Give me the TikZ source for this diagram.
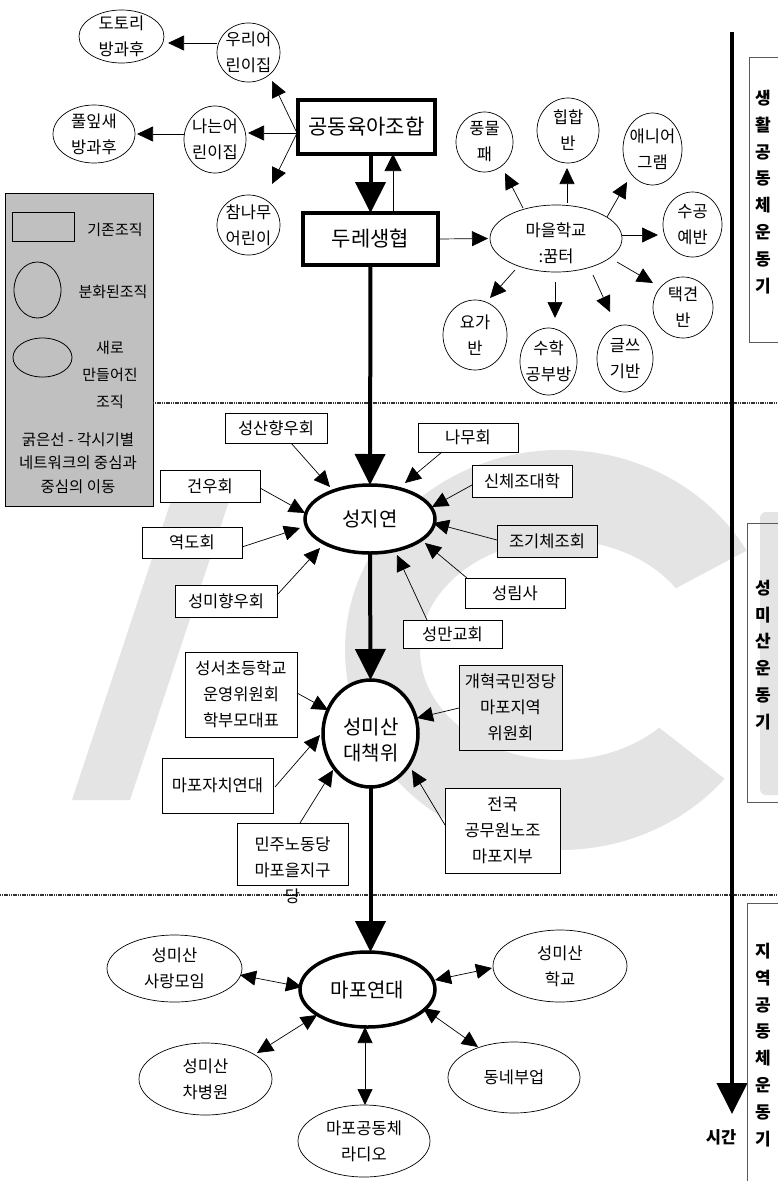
\documentclass[tikz,border=0pt]{standalone}
\usepackage{fontspec}
\setmainfont{Noto Sans CJK KR}
\usetikzlibrary{arrows.meta,shapes.geometric,calc}
\definecolor{legendgray}{RGB}{192,192,192}
\definecolor{wm}{RGB}{228,228,228}
\definecolor{pborder}{RGB}{90,90,90}
\begin{document}
\begin{tikzpicture}[x=1pt,y=-1pt,
 every node/.style={inner sep=0pt, outer sep=0pt},
 txt/.style={font=\fontsize{16.5}{26}\selectfont, align=center},
 ltxt/.style={font=\fontsize{15}{27}\selectfont, align=center},
 hubtxt/.style={font=\fontsize{20}{26}\selectfont, align=center},
 ptxt/.style={font=\bfseries\fontsize{17}{26.8}\selectfont, align=center},
 ell/.style={ellipse, draw, line width=0.7pt, fill=white},
 hub/.style={ellipse, draw, line width=3.5pt, fill=white},
 box/.style={rectangle, draw, line width=0.7pt, fill=white, font=\fontsize{16.5}{26}\selectfont, align=center},
 gbox/.style={rectangle, draw, line width=0.7pt, fill=wm, font=\fontsize{16.5}{26}\selectfont, align=center},
 kbox/.style={rectangle, draw, line width=3.5pt, fill=white, font=\fontsize{21}{26}\selectfont},
 pbox/.style={rectangle, draw=pborder, line width=0.8pt, anchor=north west},
 thinl/.style={line width=0.7pt},
 tip/.style={thinl, -{Triangle[length=16pt,width=15pt]}},
 dtip/.style={thinl, {Triangle[length=16pt,width=15pt]}-{Triangle[length=16pt,width=15pt]}},
 flow/.style={line width=4pt, -{Triangle[length=31pt,width=30pt]}},
 dotline/.style={line width=1.6pt, black!80, dash pattern=on 1.2pt off 0.6pt}
]
\useasboundingbox (0,0) rectangle (778,1181);
\clip (0,0) rectangle (778,1181);
\fill[white] (0,0) rectangle (778,1181);

% ---------- watermark (light grey letters) ----------
\fill[wm] (178,480) -- (236,480) -- (130,800) -- (72,800) -- cycle;
\fill[wm, even odd rule] (560,650) ellipse [x radius=215, y radius=200]
  (560,650) ellipse [x radius=140, y radius=110];
\fill[white] (560,650) -- ++(-28:320) -- ($(560,650)+(38:320)$) -- cycle;
\fill[wm, rounded corners=6pt] (760,512) rectangle (800,795);

% ---------- legend ----------
\node[rectangle, draw, line width=0.8pt, fill=legendgray, minimum width=148, minimum height=313, anchor=north west] (leg) at (5,193) {};
\node[rectangle, draw, line width=0.8pt, minimum width=62, minimum height=29] (legrect) at (43,226.5) {};
\node[ltxt] (leg1) at (115,230) {기존조직};
\node[ellipse, draw, line width=0.8pt, minimum width=47, minimum height=56] (legcirc) at (37.5,290) {};
\node[ltxt] (leg2) at (113,292) {분화된조직};
\node[ellipse, draw, line width=0.8pt, minimum width=59, minimum height=39] (legell) at (42.5,357.5) {};
\node[ltxt] (leg3) at (110,375) {새로\\만들어진\\조직};
\node[ltxt, font=\fontsize{15.5}{23.5}\selectfont] (leg4) at (78,463) {굵은선 - 각시기별\\네트워크의 중심과\\중심의 이동};

% ---------- dotted period lines ----------
\coordinate (d1a) at (153,403); \coordinate (d1b) at (778,403);
\coordinate (d2a) at (0,895); \coordinate (d2b) at (778,895);
\draw[dotline] (d1a) -- (d1b);
\draw[dotline] (d2a) -- (d2b);

% ---------- time axis and phases ----------
\coordinate (tA) at (732,32); \coordinate (tB) at (732,1114);
\draw[flow] (tA) -- (tB);
\node[txt, font=\bfseries\fontsize{16.5}{26}\selectfont] (time) at (721,1137) {시간};
\node[pbox, minimum width=60, minimum height=285] (p1) at (749,57) {};
\node[ptxt] (p1t) at (763,192) {생\\활\\공\\동\\체\\운\\동\\기};
\node[pbox, minimum width=60, minimum height=279] (p2) at (747,523) {};
\node[ptxt] (p2t) at (763,655) {성\\미\\산\\운\\동\\기};
\node[pbox, minimum width=60, minimum height=300] (p3) at (747,903) {};
\node[ptxt] (p3t) at (763,1045) {지\\역\\공\\동\\체\\운\\동\\기};

% ---------- period 1 ----------
\node[kbox, minimum width=137, minimum height=54] (gd) at (366.5,127) {공동육아조합};
\node[kbox, minimum width=135, minimum height=52] (dr) at (370.5,239) {두레생협};

\node[ell, minimum width=63, minimum height=59] (wuri) at (248.5,52.5) {};
\node[txt] (wuri-t) at (wuri) {우리어\\린이집};
\node[ell, minimum width=62, minimum height=67] (nanun) at (215,139.5) {};
\node[txt] (nanun-t) at (nanun) {나는어\\린이집};
\node[ell, minimum width=63, minimum height=60] (cham) at (248.5,225) {};
\node[txt] (cham-t) at (cham) {참나무\\어린이};
\node[ell, minimum width=85, minimum height=53] (dotori) at (121.5,36.5) {};
\node[txt] (dotori-t) at (dotori) {도토리\\방과후};
\node[ell, minimum width=82, minimum height=58] (pulip) at (94,134) {};
\node[txt] (pulip-t) at (pulip) {풀잎새\\방과후};

\draw[tip] ($(gd)+(-69.5,6)$) -- ($(wuri)+(23.5,28.5)$);
\draw[tip] ($(gd)+(-69.5,6)$) -- ($(nanun)+(33,-6.5)$);
\draw[tip] ($(gd)+(-69.5,6)$) -- ($(cham)+(23.5,-41)$);
\draw[tip] ($(wuri)+(-31.5,-9.5)$) -- ($(dotori)+(46.5,6.5)$);
\draw[tip] ($(nanun)+(-31,-5.5)$) -- ($(pulip)+(43,0)$);

\draw[flow] (gd.south -| dr.north) -- (dr.north);
\draw[thinl, -{Triangle[length=17pt,width=17pt]}] ([xshift=22.5pt]dr.north) -- ([xshift=26.5pt]gd.south);

\node[ell, minimum width=132, minimum height=67] (gg) at (556,238.5) {};
\node[txt] (gg-t) at (556,243) {마을학교\\:꿈터};
\draw[tip, shorten >=2pt] (dr.east) -- (gg.west);

\node[ell, minimum width=57, minimum height=60] (pung) at (484.5,142) {};
\node[txt] (pung-t) at (pung) {풍물\\패};
\node[ell, minimum width=62, minimum height=65] (hip) at (568,130.5) {};
\node[txt] (hip-t) at (hip) {힙합\\반};
\node[ell, minimum width=59, minimum height=72] (aeni) at (652.5,149) {};
\node[txt] (aeni-t) at (aeni) {애니어\\그램};
\node[ell, minimum width=59, minimum height=65] (sugong) at (692.5,224.5) {};
\node[txt] (sugong-t) at (sugong) {수공\\예반};
\node[ell, minimum width=60, minimum height=61] (taek) at (683,307.5) {};
\node[txt] (taek-t) at (taek) {택견\\반};
\node[ell, minimum width=56, minimum height=67] (geul) at (625,358.5) {};
\node[txt] (geul-t) at (geul) {글쓰\\기반};
\node[ell, minimum width=57, minimum height=67] (suhak) at (548.5,361.5) {};
\node[txt] (suhak-t) at (suhak) {수학\\공부방};
\node[ell, minimum width=64, minimum height=70] (yoga) at (475,335) {};
\node[txt] (yoga-t) at (yoga) {요가\\반};

\draw[tip] ($(gg)+(-33,-30.5)$) -- ($(pung)+(20.5,31)$);
\draw[tip] ($(gg)+(11,-35.5)$) -- ($(hip)+(-1,37.5)$);
\draw[tip] ($(gg)+(51,-21.5)$) -- ($(aeni)+(-25.5,33)$);
\draw[tip] ($(gg)+(66,-3.5)$) -- ($(sugong)+(-34.5,10.5)$);
\draw[tip] ($(gg)+(61,23.5)$) -- ($(taek)+(-30,-24.5)$);
\draw[tip] ($(gg)+(37,36.5)$) -- ($(geul)+(-15,-46.5)$);
\draw[tip] ($(gg)+(-1,43.5)$) -- ($(suhak)+(6.5,-43.5)$);
\draw[tip] ($(gg)+(-41,31.5)$) -- ($(yoga)+(15,-37)$);

% ---------- period 2a: 성지연 ----------
\node[hub, minimum width=130, minimum height=68] (sjy) at (370,519) {};
\node[hubtxt] (sjy-t) at (sjy) {성지연};
\draw[flow] (dr.south) -- (sjy.north);

\node[box, minimum width=102, minimum height=30] (sansan) at (276,428) {성산향우회};
\node[box, minimum width=100, minimum height=29] (namu) at (468,437.5) {나무회};
\node[box, minimum width=100, minimum height=32] (geonu) at (210,486) {건우회};
\node[box, minimum width=100, minimum height=32] (sinche) at (522,481) {신체조대학};
\node[box, minimum width=100, minimum height=31] (yeokdo) at (192,542.5) {역도회};
\node[gbox, minimum width=100, minimum height=32] (jogi) at (547,541) {조기체조회};
\node[box, minimum width=102, minimum height=32] (smhy) at (226,601) {성미향우회};
\node[box, minimum width=100, minimum height=30] (srim) at (515,593) {성림사};
\node[box, minimum width=99, minimum height=28] (sman) at (452.5,634) {성만교회};

\draw[tip] ($(sansan)+(15,15)$) -- ($(sjy)+(-40,-32)$);
\draw[tip] ($(namu)+(-26,14.5)$) -- ($(sjy)+(35,-36)$);
\draw[tip] ($(geonu)+(50,2)$) -- ($(sjy)+(-65,-6)$);
\draw[tip] ($(sinche)+(-50,4)$) -- ($(sjy)+(62,-12)$);
\draw[tip] ($(yeokdo)+(50,4.5)$) -- ($(sjy)+(-70,9)$);
\draw[tip] ($(jogi)+(-50,-1)$) -- ($(sjy)+(63,4)$);
\draw[tip] ($(smhy)+(51,-6)$) -- ($(sjy)+(-50,29)$);
\draw[tip] ($(srim)+(-48,-15)$) -- ($(sjy)+(55,24)$);
\draw[tip] ($(sman)+(-25.5,-14)$) -- ($(sjy)+(27,36)$);

% ---------- period 2b: 성미산 대책위 ----------
\node[hub, minimum width=95, minimum height=107] (djw) at (370.5,733.5) {};
\node[hubtxt] (djw-t) at (371,740) {성미산\\대책위};
\draw[flow] (sjy.south) -- (djw.north);

\node[box, minimum width=112, minimum height=85] (seoseo) at (241,694.5) {성서초등학교\\운영위원회\\학부모대표};
\node[gbox, minimum width=103, minimum height=85] (gaehyeok) at (510.5,707.5) {개혁국민정당\\마포지역\\위원회};
\node[box, minimum width=111, minimum height=55] (jachi) at (217.5,785.5) {마포자치연대};
\node[box, minimum width=111, minimum height=62] (minju) at (292.5,854) {};
\node[txt] (minju-t) at (292.5,870) {민주노동당\\마포을지구\\당};
\node[box, minimum width=115, minimum height=85] (jeonguk) at (502.5,830.5) {전국\\공무원노조\\마포지부};

\draw[tip] ($(seoseo)+(56,-1.5)$) -- ($(djw)+(-42.5,-23.5)$);
\draw[tip] ($(gaehyeok)+(-51.5,0.5)$) -- ($(djw)+(46.5,-15.5)$);
\draw[tip] ($(jachi)+(57.5,1.5)$) -- ($(djw)+(-50.5,1.5)$);
\draw[tip] ($(minju)+(7.5,-31)$) -- ($(djw)+(-37.5,36.5)$);
\draw[tip] ($(jeonguk)+(-57.5,-5.5)$) -- ($(djw)+(41.5,36.5)$);

% ---------- period 3: 마포연대 ----------
\node[hub, minimum width=135, minimum height=75] (mapo) at (367.5,989.5) {};
\node[hubtxt] (mapo-t) at (mapo) {마포연대};
\draw[flow] (djw.south) -- (djw.south |- mapo.north);

\node[ell, minimum width=135, minimum height=67] (sarang) at (174.5,968.5) {};
\node[txt] (sarang-t) at (sarang) {성미산\\사랑모임};
\node[ell, minimum width=133, minimum height=72] (chab) at (205.5,1079) {};
\node[txt] (chab-t) at (chab) {성미산\\차병원};
\node[ell, minimum width=132, minimum height=72] (radio) at (364,1141) {};
\node[txt] (radio-t) at (radio) {마포공동체\\라디오};
\node[ell, minimum width=134, minimum height=72] (hakgyo) at (560,966) {};
\node[txt] (hakgyo-t) at (hakgyo) {성미산\\학교};
\node[ell, minimum width=132, minimum height=71] (bueop) at (514,1077.5) {};
\node[txt] (bueop-t) at (bueop) {동네부업};

\draw[dtip] ($(sarang)+(65.5,6.5)$) -- ($(mapo)+(-65.5,-2.5)$);
\draw[dtip] ($(chab)+(51.5,-26)$) -- ($(mapo)+(-50.5,25.5)$);
\draw[dtip] ($(mapo)+(-2.5,37.5)$) -- ($(radio)+(1,-36)$);
\draw[dtip] ($(mapo)+(67.5,-9.5)$) -- ($(hakgyo)+(-68,2)$);
\draw[dtip] ($(mapo)+(55.5,18.5)$) -- ($(bueop)+(-36,-30.5)$);
\end{tikzpicture}
\end{document}
